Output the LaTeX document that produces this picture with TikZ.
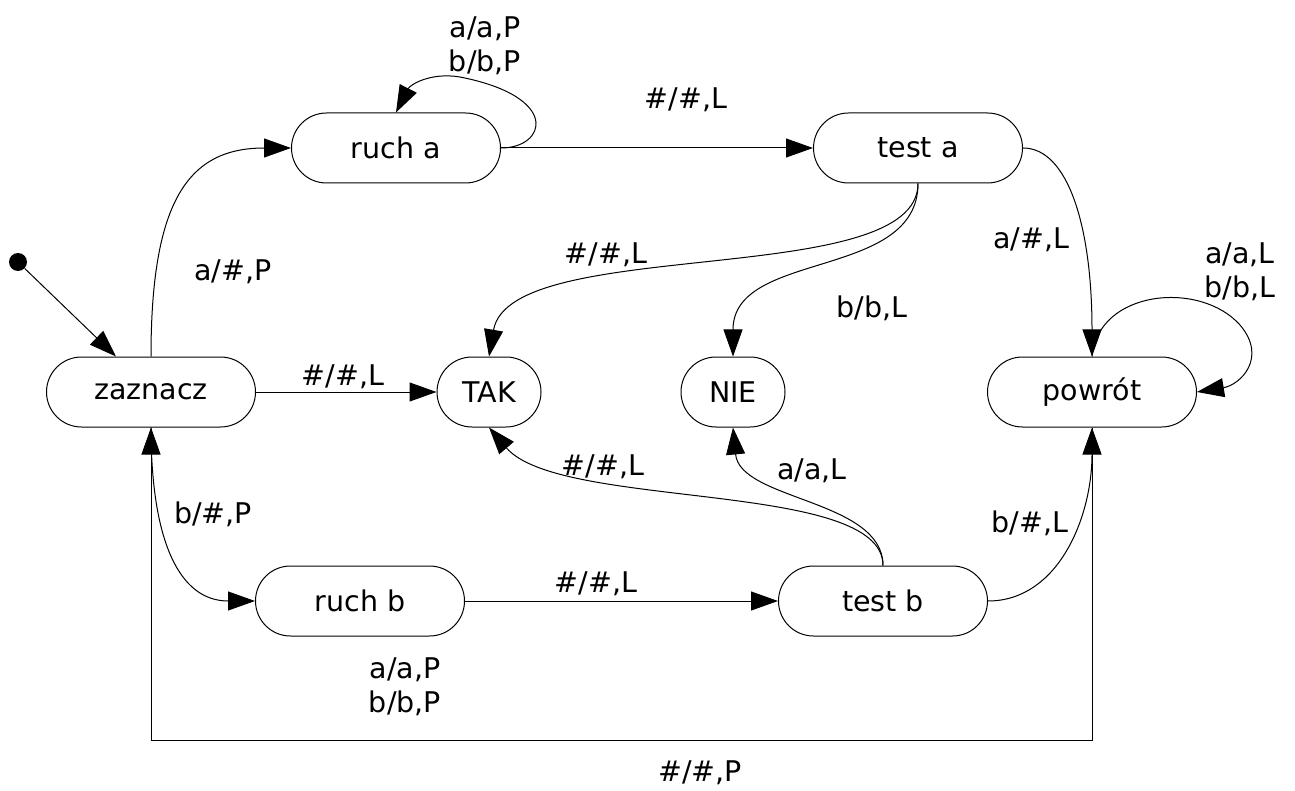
\documentclass[tikz,border=0pt]{standalone}
\usepackage{fontspec}
\setmainfont{DejaVu Sans}
\usetikzlibrary{arrows.meta}
\newcommand{\statefont}{\fontsize{28.5}{34}\selectfont}
\begin{document}
\begin{tikzpicture}[x=1pt,y=-1pt,
  state/.style={draw, line width=1pt, rounded corners=35pt, minimum height=70pt,
                inner sep=0pt, font=\statefont},
  wide/.style={state, minimum width=209pt},
  narrow/.style={state, minimum width=104pt},
  edge/.style={line width=1pt, -{Triangle[length=27pt,width=19pt]}},
  lbl/.style={font=\statefont, inner sep=0pt, align=center}
]
\useasboundingbox (0,0) rectangle (1295,791);

% states
\node[wide]   (zaznacz) at (151,392) {zaznacz};
\node[wide]   (rucha)   at (396,148) {ruch a};
\node[wide]   (testa)   at (918,148) {test a};
\node[narrow] (tak)     at (489,392) {TAK};
\node[narrow] (nie)     at (733,392) {NIE};
\node[wide]   (powrot)  at (1092,392) {powrót};
\node[wide]   (ruchb)   at (360,601) {ruch b};
\node[wide]   (testb)   at (883,601) {test b};

% initial state marker
\node[circle, fill, inner sep=0pt, minimum size=18pt] (init) at (18,262) {};
\draw[edge] (init) -- ([xshift=-35pt]zaznacz.north);

% transitions
\draw[edge] (zaznacz.north) .. controls +(0,-157) and +(-102,0) .. (rucha.west);
\draw[edge] (rucha.east) .. controls +(45,0) and (562,97) .. (460,77)
            .. controls (430,72) and (410,85) .. (rucha.north);
\draw[edge] (rucha) -- (testa);
\draw[edge] (testa.east) .. controls +(45,0) and +(0,-130) .. (powrot.north);
\draw[edge] (testa.south) .. controls +(0,107) and +(21,-122) .. (tak.north);
\draw[edge] (testa.south) .. controls +(0,97) and +(0,-107) .. (nie.north);
\draw[edge] (zaznacz) -- (tak);
\draw[edge] (powrot.north) .. controls (1098,290) and (1200,280) .. (1240,325)
            .. controls (1268,358) and (1240,385) .. (powrot.east);
\draw[edge] (zaznacz.south) .. controls +(0,113) and +(-76,0) .. (ruchb.west);
\draw[edge] (ruchb) -- (testb);
\draw[edge] (testb.north) .. controls +(0,-86) and +(71,83) .. (tak.south);
\draw[edge] (testb.north) .. controls +(0,-66) and +(7,73) .. (nie.south);
\draw[edge] (testb.east) .. controls +(70,0) and +(0,90) .. (powrot.south);
\draw[edge] (powrot.south) -- ++(0,313) -| (zaznacz.south);

% transition labels
\node[lbl] (l1)  at (485,46)   {a/a,P\\b/b,P};
\node[lbl] (l2)  at (686,100)  {\#/\#,L};
\node[lbl] (l3)  at (233,272)  {a/\#,P};
\node[lbl] (l4)  at (606,255)  {\#/\#,L};
\node[lbl] (l5)  at (1031,240) {a/\#,L};
\node[lbl] (l6)  at (1240,272) {a/a,L\\b/b,L};
\node[lbl] (l7)  at (872,308)  {b/b,L};
\node[lbl] (l8)  at (343,377)  {\#/\#,L};
\node[lbl] (l9)  at (603,467)  {\#/\#,L};
\node[lbl] (l10) at (812,471)  {a/a,L};
\node[lbl] (l11) at (213,514)  {b/\#,P};
\node[lbl] (l12) at (1030,523) {b/\#,L};
\node[lbl] (l13) at (596,584)  {\#/\#,L};
\node[lbl] (l14) at (405,687)  {a/a,P\\b/b,P};
\node[lbl] (l15) at (700,773)  {\#/\#,P};
\end{tikzpicture}
\end{document}
